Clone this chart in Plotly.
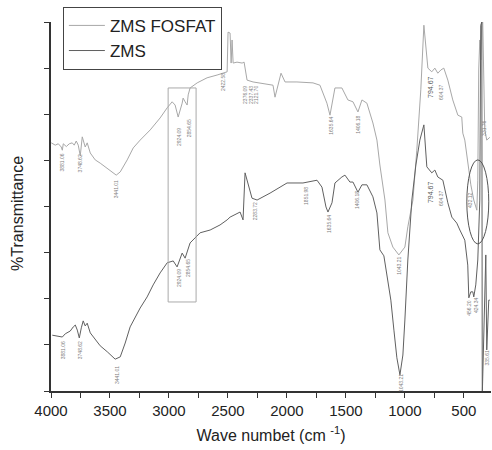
import plotly.graph_objects as go

# ---- data ----
fosfat_wn = [3998, 3964, 3938, 3913, 3904, 3896, 3870, 3845, 3820, 3803, 3786, 3769, 3752, 3735, 3710,
             3693, 3667, 3625, 3583, 3523, 3473, 3447, 3413, 3354, 3303, 3244, 3159, 3075, 3015, 2973,
             2948, 2922, 2888, 2880, 2863, 2846, 2837, 2821, 2761, 2677, 2592, 2507, 2499, 2482, 2473,
             2465, 2456, 2423, 2380, 2363, 2338, 2287, 2118, 2101, 2050, 2016, 1915, 1779, 1720, 1661,
             1635, 1593, 1534, 1483, 1440, 1398, 1364, 1322, 1271, 1237, 1212, 1186, 1169, 1144, 1102,
             1051, 1000, 975, 932, 899, 865, 839, 822, 805, 772, 746, 721, 695, 670, 636, 594, 551, 518,
             509, 492, 467, 441, 416, 390, 382, 374, 365, 357, 348, 340, 323, 306, 280]
fosfat_t = [53.8, 53.3, 53.6, 52.9, 52.2, 53.6, 53.0, 53.6, 53.8, 53.3, 54.2, 53.3, 51.0, 55.1, 52.9,
            53.8, 51.6, 50.1, 49.4, 48.3, 47.3, 46.8, 47.5, 50.1, 52.7, 54.4, 56.6, 59.2, 61.4, 62.7,
            62.0, 59.4, 62.4, 63.5, 62.7, 62.0, 64.2, 65.7, 66.8, 67.9, 68.5, 69.2, 77.8, 77.6, 71.1,
            76.1, 71.1, 71.3, 71.1, 71.3, 67.4, 67.0, 66.3, 63.7, 68.9, 67.0, 67.0, 66.8, 66.3, 62.4,
            59.8, 65.7, 65.7, 63.1, 62.7, 60.5, 63.1, 62.4, 58.1, 54.4, 49.0, 44.7, 41.4, 34.3, 31.2,
            29.5, 31.2, 35.6, 41.4, 52.2, 65.3, 79.3, 75.0, 70.0, 69.2, 70.0, 68.9, 69.6, 70.0, 67.4,
            63.1, 59.8, 59.4, 55.9, 54.4, 49.0, 44.7, 41.4, 39.2, 45.7, 69.6, 76.1, 71.8, 80.0, 80.0,
            56.6, 54.4, 55.0]

zms_wn = [3989, 3947, 3904, 3879, 3837, 3811, 3794, 3777, 3760, 3743, 3727, 3710, 3693, 3667, 3625,
          3583, 3523, 3456, 3413, 3371, 3329, 3286, 3244, 3185, 3134, 3075, 3015, 2964, 2931, 2888,
          2863, 2821, 2736, 2651, 2567, 2507, 2482, 2397, 2372, 2355, 2338, 2329, 2296, 2253, 2143,
          1999, 1864, 1745, 1703, 1669, 1652, 1618, 1593, 1534, 1508, 1466, 1440, 1398, 1364, 1322,
          1271, 1237, 1212, 1178, 1153, 1119, 1093, 1068, 1042, 1017, 1000, 975, 941, 907, 873, 839,
          814, 772, 746, 721, 678, 661, 636, 602, 560, 534, 492, 467, 458, 441, 424, 416, 399, 382,
          374, 365, 357, 348, 344, 314, 306, 289, 280]
zms_t = [12.1, 11.9, 11.7, 12.4, 13.0, 13.9, 14.3, 13.2, 11.5, 13.7, 15.2, 14.1, 14.7, 12.6, 11.1,
         9.8, 8.5, 6.9, 7.4, 10.4, 13.9, 16.1, 18.0, 20.4, 23.0, 25.6, 27.8, 28.2, 26.9, 29.9,
         28.8, 32.1, 34.3, 34.9, 36.0, 37.1, 37.7, 38.8, 37.1, 47.3, 45.7, 45.3, 41.8, 41.4, 42.9,
         45.1, 45.1, 45.7, 44.2, 39.9, 38.8, 40.8, 45.1, 46.4, 46.8, 45.3, 45.3, 43.1, 44.7, 44.7,
         42.1, 38.6, 30.6, 29.3, 25.1, 19.7, 13.2, 7.2, 3.5, 7.8, 15.4, 28.4, 41.4, 49.0, 54.4, 57.7,
         48.6, 47.3, 47.9, 46.4, 45.7, 43.6, 40.8, 37.7, 36.4, 34.9, 32.7, 27.3, 20.2, 21.5, 21.5,
         20.4, 23.0, 28.4, 34.9, 41.4, 79.3, 80.0, -1.0, 29.5, 8.9, 19.7, 19.7]

series_names = ["ZMS FOSFAT", "ZMS"]
x_ticks = [4000, 3500, 3000, 2500, 2000, 1500, 1000, 500]

# peak labels: text, wavenumber position, transmittance position
peak_text = ["3881.06", "3748.62", "3441.01", "2924.09", "2854.65", "2422.58", "2376.09", "2337.43",
             "2121.70", "1635.64", "1406.18", "1043.21", "604.37", "331.76",
             "3881.06", "3748.62", "3441.01", "2924.09", "2854.65", "2283.72", "1851.98", "1635.64",
             "1406.18", "1043.21", "604.37", "456.20", "424.34", "432.12", "335.61"]
peak_x = [3904, 3752, 3447, 2914, 2829, 2541, 2355, 2304, 2262, 1627, 1398, 1051, 695, 331,
          3896, 3752, 3439, 2914, 2837, 2270, 1838, 1644, 1406, 1034, 695, 458, 399, 449, 306]
peak_y = [49.6, 49.4, 43.8, 55.1, 57.0, 67.0, 64.2, 64.2, 64.2, 57.5, 57.7, 27.1, 64.8, 57.0,
          8.9, 8.9, 3.5, 24.5, 26.7, 39.0, 42.3, 36.2, 41.4, 1.7, 41.8, 18.0, 18.6, 41.4, 7.2]
big_text = ["794.67", "794.67"]
big_x = [788, 788]
big_y = [65.9, 43.1]

FONT = "Liberation Sans, Arial, sans-serif"

fig = go.Figure()
fig.add_trace(go.Scatter(x=fosfat_wn, y=fosfat_t, mode="lines", name=series_names[0],
                         line=dict(color="#a8a8a8", width=1)))
fig.add_trace(go.Scatter(x=zms_wn, y=zms_t, mode="lines", name=series_names[1],
                         line=dict(color="#606060", width=1)))

for t, x, y in zip(peak_text, peak_x, peak_y):
    fig.add_annotation(x=x, y=y, xref="x", yref="y", text=t, showarrow=False, textangle=-90,
                       font=dict(family=FONT, size=5, color="#808080"))
for t, x, y in zip(big_text, big_x, big_y):
    fig.add_annotation(x=x, y=y, xref="x", yref="y", text=t, showarrow=False, textangle=-90,
                       font=dict(family=FONT, size=7, color="#555"))

# highlight rectangle and ellipse
fig.add_shape(type="rect", xref="x", yref="y", x0=3007, x1=2770, y0=19.3, y1=65.7,
              line=dict(color="#aaaaaa", width=1))
fig.add_shape(type="circle", xref="x", yref="y", x0=475, x1=289, y0=31.9, y1=50.1,
              line=dict(color="#555555", width=1))

# y-axis title placed as a paper annotation to match its position
fig.add_annotation(xref="paper", yref="paper", x=-0.075, y=0.48, xanchor="center", yanchor="middle",
                   text="%Transmittance", textangle=-90, showarrow=False,
                   font=dict(family=FONT, size=16, color="#222"))

fig.update_layout(
    width=492, height=450,
    margin=dict(l=51, r=1, t=22, b=59),
    paper_bgcolor="white", plot_bgcolor="white",
    font=dict(family=FONT, color="#222"),
    showlegend=True,
    legend=dict(x=0.027, y=1.041, xanchor="left", yanchor="top",
                bordercolor="#444", borderwidth=1, bgcolor="white",
                font=dict(family=FONT, size=17, color="#222"),
                itemwidth=36, tracegroupgap=0),
    xaxis=dict(range=[4000, 270], tickvals=x_ticks, ticks="outside", ticklen=5, tickwidth=1,
               tickcolor="#333", showline=True, linecolor="#333", linewidth=1.5,
               showgrid=False, zeroline=False,
               tickfont=dict(family=FONT, size=15, color="#222"),
               minor=dict(dtick=250, tick0=0, ticks="outside", ticklen=5, tickcolor="#333"),
               title=dict(text="Wave numbet (cm <sup>-1</sup>)", font=dict(family=FONT, size=16, color="#222"),
                          standoff=12)),
    yaxis=dict(range=[0, 80], dtick=10, tick0=0, ticks="outside", ticklen=5, tickwidth=1,
               tickcolor="#333", showline=True, linecolor="#333", linewidth=1.5,
               showticklabels=False, showgrid=False, zeroline=False),
)

fig.write_html("out.html")
